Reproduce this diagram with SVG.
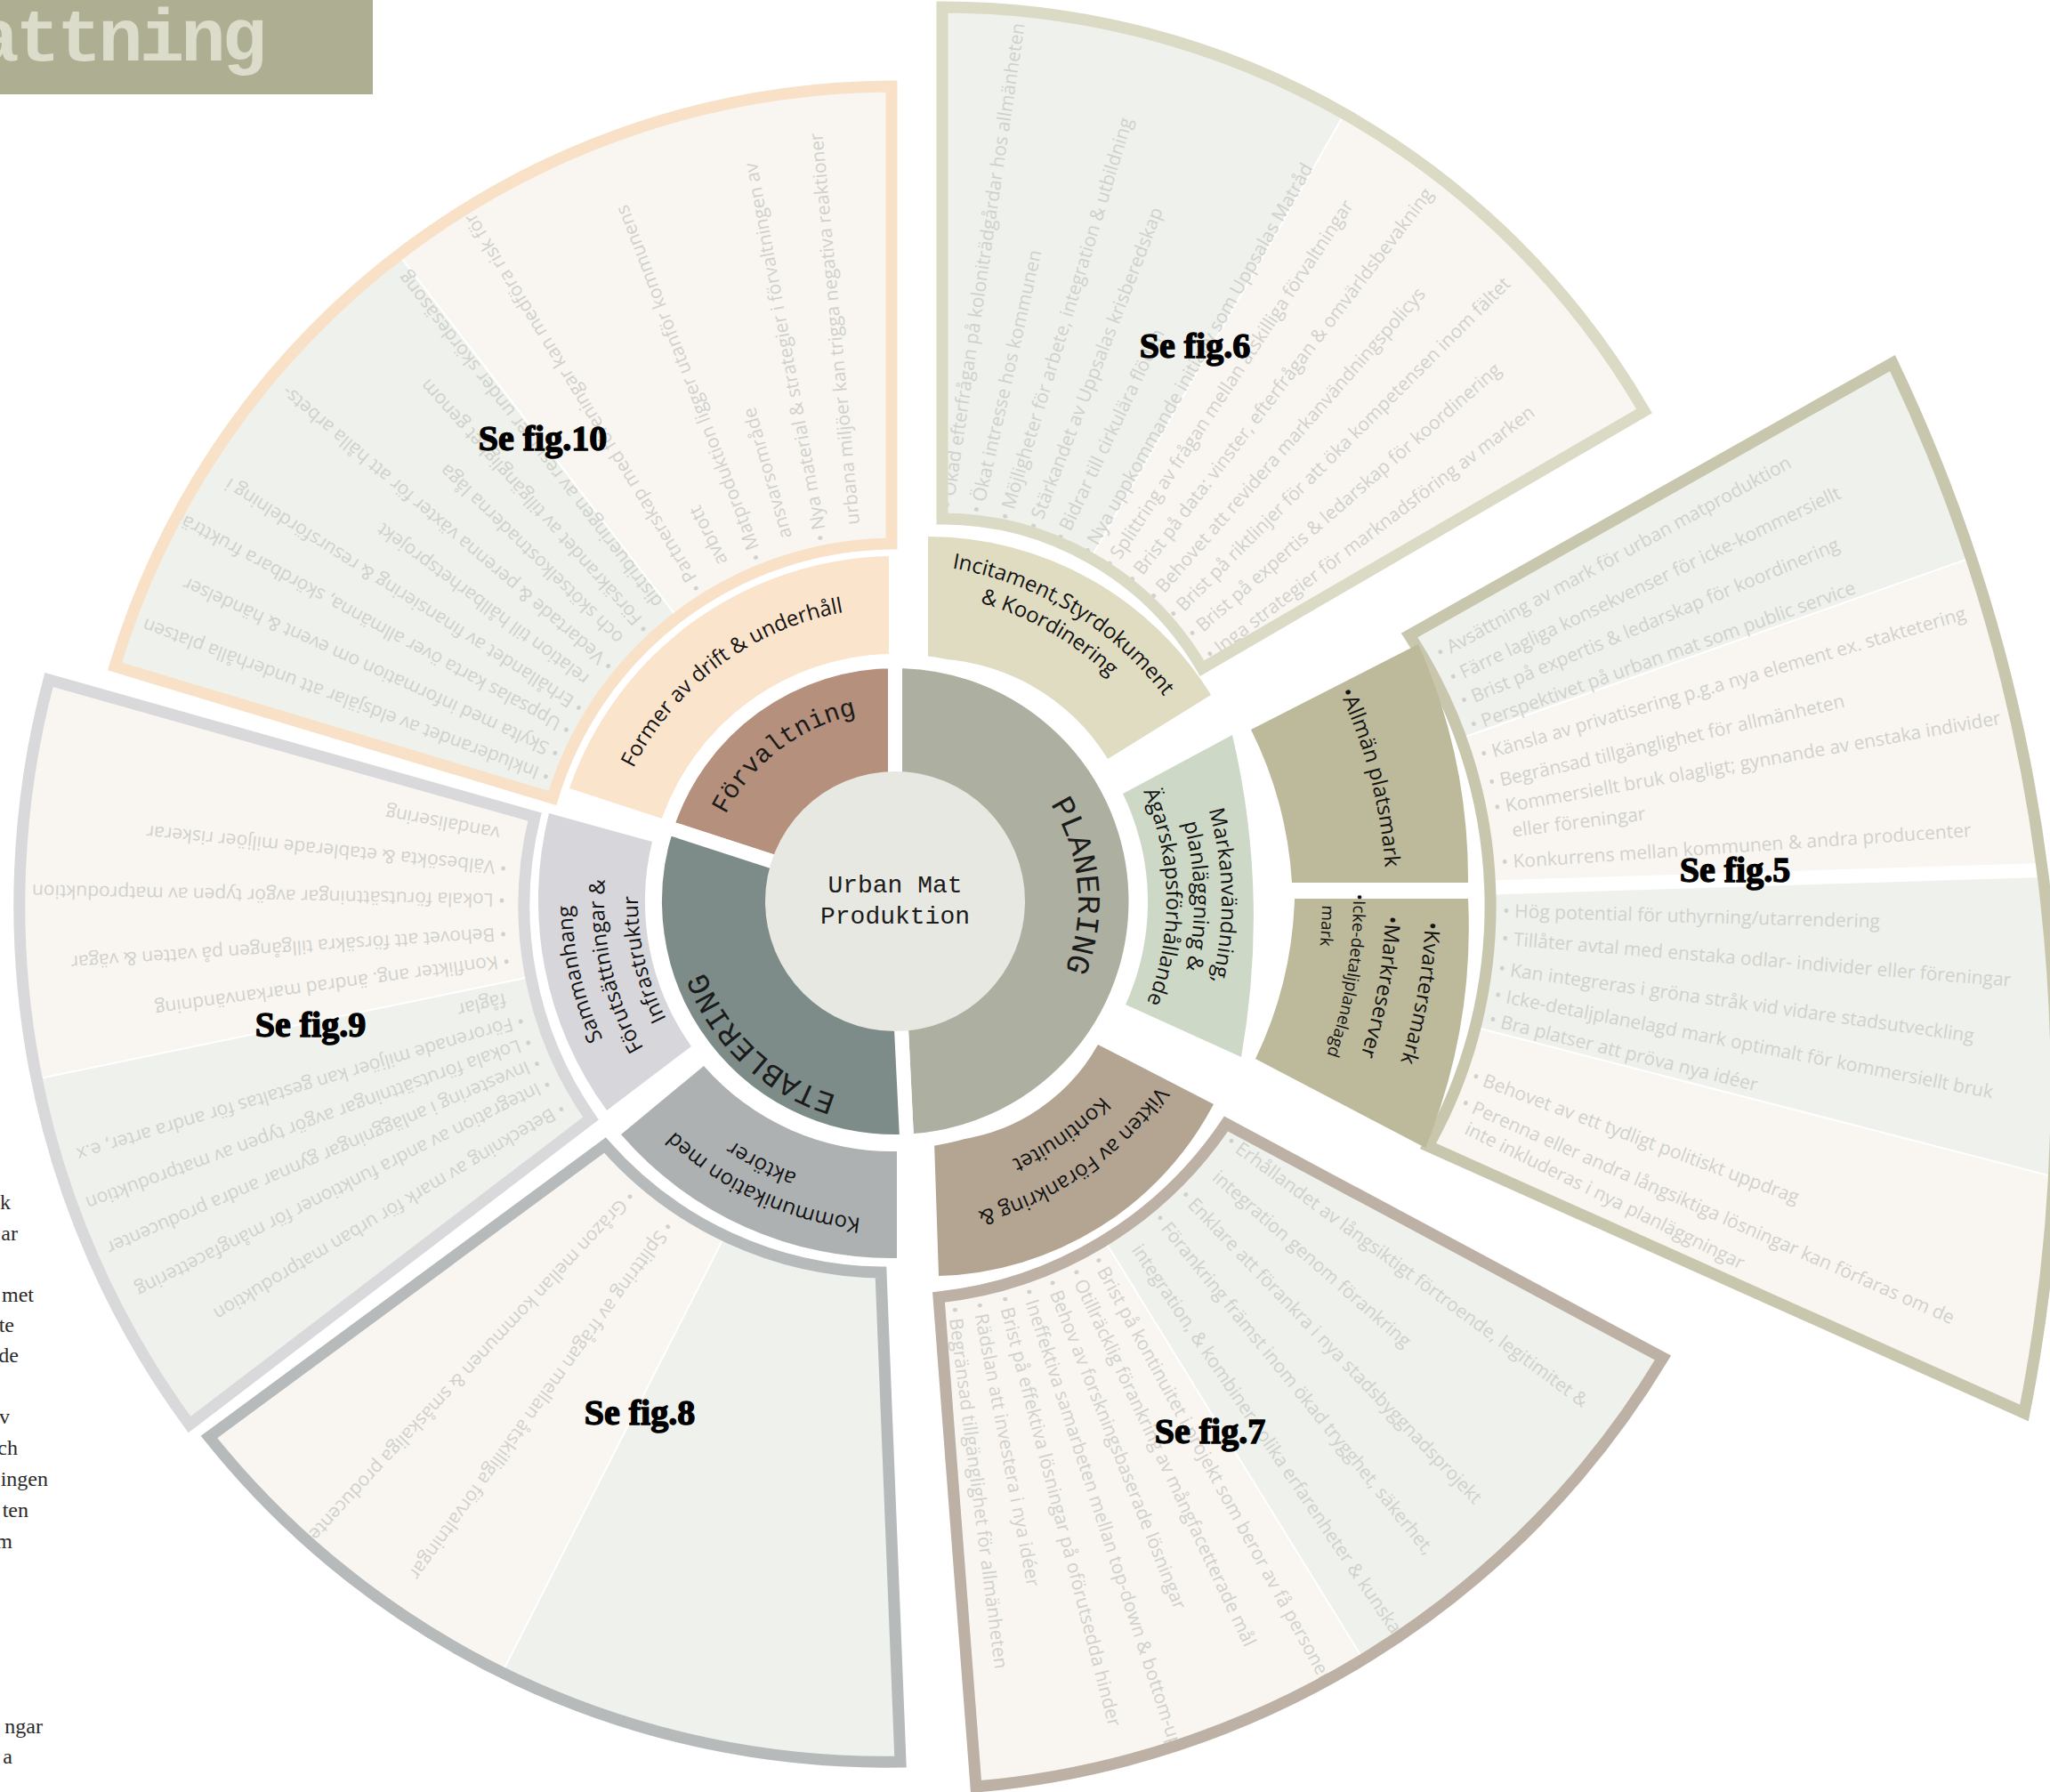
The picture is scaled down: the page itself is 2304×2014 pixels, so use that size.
<svg xmlns="http://www.w3.org/2000/svg" width="2304" height="2014" viewBox="0 0 2304 2014">
<style>
.pt{font-family:"Open Sans","Noto Sans","Liberation Sans",sans-serif;font-size:21px;fill:#d1d1cc}
.lbl{font-family:"Open Sans","Noto Sans","Liberation Sans",sans-serif;font-size:24px;fill:#121212}
.sm{font-size:19px}
.tw{font-family:"Liberation Mono","DejaVu Sans Mono",monospace;fill:#1b1b1b}
.fig{font-family:"Liberation Serif","DejaVu Serif",serif;font-weight:bold;font-size:40px;fill:#000;stroke:#000;stroke-width:1.4;text-anchor:middle}
.mg{font-family:"Liberation Serif","Times New Roman",serif;font-size:24px;fill:#2a2a2a;text-anchor:end}
.gr{fill:#eff1ec}
.cr{fill:#f9f6f2}
.dv{stroke:#fff;stroke-width:2}
.ring{stroke:#fff;stroke-width:16}
</style>
<defs>
<path id="p10" d="M621,897 L129,749 A916,916 0 0 1 1002,97 L1002,611 A402,402 0 0 0 621,897 Z"/>
<path id="p6" d="M1059,583 L1059,8 A913,913 0 0 1 1848,462 L1351,751 A338,338 0 0 0 1059,583 Z"/>
<path id="p5" d="M1584,714 L2127,408 A1887,1887 0 0 1 2275,1588 L1605,1288 A554,554 0 0 0 1584,714 Z"/>
<path id="p7" d="M1378,1263 L1869,1526 A1003,1003 0 0 1 1097,2008 L1055,1458 A448,448 0 0 0 1378,1263 Z"/>
<path id="p8" d="M990,1430 L1012,1980 A973,973 0 0 1 235,1615 L680,1287 A421,421 0 0 0 990,1430 Z"/>
<path id="p9" d="M664,1257 L213,1601 A985,985 0 0 1 55,764 L601,918 A418,418 0 0 0 664,1257 Z"/>
<clipPath id="c10"><use href="#p10"/></clipPath>
<clipPath id="c6"><use href="#p6"/></clipPath>
<clipPath id="c5"><use href="#p5"/></clipPath>
<clipPath id="c7"><use href="#p7"/></clipPath>
<clipPath id="c8"><use href="#p8"/></clipPath>
<clipPath id="c9"><use href="#p9"/></clipPath>
<path id="a_form" d="M-326.5,-48.2 A330,330 0 0 1 48.2,-326.5"/>
<path id="a_inc1" d="M-90.6,-369 A380,380 0 0 1 369,-90.6"/>
<path id="a_inc2" d="M-91.5,-336.8 A349,349 0 0 1 336.8,-91.5"/>
<path id="a_mk1" d="M254.9,-264 A367,367 0 0 1 264,254.9"/>
<path id="a_mk2" d="M233.4,-241.7 A336,336 0 0 1 241.7,233.4"/>
<path id="a_mk3" d="M211.9,-219.4 A305,305 0 0 1 219.4,211.9"/>
<path id="a_all" d="M279.3,-476.1 A552,552 0 0 1 476.1,279.3"/>
<path id="a_kv" d="M595.6,22.9 A596,596 0 0 1 298,516.1"/>
<path id="a_mr" d="M550.8,16.3 A551,551 0 0 1 275.5,477.2"/>
<path id="a_ik" d="M514.9,-8.1 A515,515 0 0 1 257.5,446"/>
<path id="a_mark" d="M480,4.2 A480,480 0 0 1 240,415.7"/>
<path id="a_vik1" d="M355.4,63.3 A361,361 0 0 1 -63.3,355.4"/>
<path id="a_vik2" d="M314.6,52.6 A319,319 0 0 1 -52.6,314.6"/>
<path id="a_kom1" d="M122.4,336.4 A358,358 0 0 1 -336.4,122.4"/>
<path id="a_kom2" d="M100.4,309.1 A325,325 0 0 1 -309.1,100.4"/>
<path id="a_sam1" d="M-192.4,307.8 A363,363 0 0 1 -307.8,-192.4"/>
<path id="a_sam2" d="M-173.3,277.3 A327,327 0 0 1 -277.3,-173.3"/>
<path id="a_sam3" d="M-153.1,245.1 A289,289 0 0 1 -245.1,-153.1"/>
<path id="a_forv" d="M-212.1,-28.7 A214,214 0 0 1 28.7,-212.1"/>
<path id="a_plan" d="M132.4,-157.8 A206,206 0 0 1 157.8,132.4"/>
<path id="a_etab" d="M7.2,227.9 A228,228 0 0 1 -227.9,7.2"/>
</defs>

<g id="title">
<rect x="0" y="0" width="419" height="106" fill="#aeae93"/>
<text x="296" y="68" text-anchor="end" font-family="Liberation Mono, DejaVu Sans Mono, monospace" font-weight="bold" font-size="84" letter-spacing="-4" fill="#dcdccb">attning</text>
</g>

<g id="margin-text">
<text class="mg" x="12" y="1359">k</text>
<text class="mg" x="20" y="1394">ar</text>
<text class="mg" x="38" y="1463">met</text>
<text class="mg" x="16" y="1497">te</text>
<text class="mg" x="21" y="1531">de</text>
<text class="mg" x="11" y="1600">v</text>
<text class="mg" x="20" y="1635">ch</text>
<text class="mg" x="54" y="1670">ingen</text>
<text class="mg" x="32" y="1705">ten</text>
<text class="mg" x="14" y="1740">m</text>
<text class="mg" x="48" y="1948">ngar</text>
<text class="mg" x="14" y="1982">a</text>
</g>

<g id="connectors"></g>

<!-- fig.10 petal -->
<g id="fig10">
<use href="#p10" class="gr"/>
<g clip-path="url(#c10)">
<rect x="0" y="-3000" width="3000" height="3000" class="cr" transform="translate(1006 1013) rotate(-37.5)"/>
<line x1="0" y1="0" x2="0" y2="-3000" class="dv" transform="translate(1006 1013) rotate(-37.5)"/>
<g class="pt" transform="translate(1006 1013)">
<text transform="rotate(-159.3)" x="413">• Inkluderandet av eldsjälar att underhålla platsen</text>
<text transform="rotate(-155.4)" x="413">• Skylta med information om event &amp; händelser</text>
<text transform="rotate(-151.4)" x="413">• Uppsalas karta över allmänna, skördbara fruktträd</text>
<text transform="rotate(-147.5)" x="413">• Erhållandet av finansiering &amp; resursfördelning i</text>
<text transform="rotate(-143.5)" x="426">relation till hållbarhetsprojekt</text>
<text transform="rotate(-139.6)" x="413">• Vedartade &amp; perenna växter för att hålla arbets-</text>
<text transform="rotate(-135.6)" x="426">och skötselkostnaderna låga</text>
<text transform="rotate(-131.7)" x="413">• Försäkrandet av tillgänglighet genom</text>
<text transform="rotate(-127.7)" x="426">distribueringen av resurser under skördesäsong</text>
<text transform="rotate(-121.4)" x="413">• Partnerskap med föreningar kan medföra risk för</text>
<text transform="rotate(-116.2)" x="426">avbrott</text>
<text transform="rotate(-111)" x="413">• Matproduktion ligger utanför kommunens</text>
<text transform="rotate(-105.8)" x="426">ansvarsområde</text>
<text transform="rotate(-100.6)" x="413">• Nya material &amp; strategier i förvaltningen av</text>
<text transform="rotate(-95.4)" x="426">urbana miljöer kan trigga negativa reaktioner</text>
</g>
</g>
<use href="#p10" fill="none" stroke="#f8e1c7" stroke-width="13"/>
</g>

<!-- fig.6 petal -->
<g id="fig6">
<use href="#p6" class="gr"/>
<g clip-path="url(#c6)">
<rect x="0" y="-3000" width="3000" height="3000" class="cr" transform="translate(1006 1013) rotate(29.7)"/>
<line x1="0" y1="0" x2="0" y2="-3000" class="dv" transform="translate(1006 1013) rotate(29.7)"/>
<g class="pt" transform="translate(1006 1013)">
<text transform="rotate(-81.6)" x="446">• Ökad efterfrågan på koloniträdgårdar hos allmänheten</text>
<text transform="rotate(-77.3)" x="446">• Ökat intresse hos kommunen</text>
<text transform="rotate(-73.1)" x="446">• Möjligheter för arbete, integration &amp; utbildning</text>
<text transform="rotate(-68.8)" x="446">• Stärkandet av Uppsalas krisberedskap</text>
<text transform="rotate(-64.6)" x="446">• Bidrar till cirkulära flöden</text>
<text transform="rotate(-60.3)" x="446">• Nya uppkommande initiativ som Uppsalas Matråd</text>
<text transform="rotate(-56.6)" x="446">• Splittring av frågan mellan åtskilliga förvaltningar</text>
<text transform="rotate(-52.7)" x="446">• Brist på data: vinster, efterfrågan &amp; omvärldsbevakning</text>
<text transform="rotate(-48.8)" x="446">• Behovet att revidera markanvändningspolicys</text>
<text transform="rotate(-45)" x="446">• Brist på riktlinjer för att öka kompetensen inom fältet</text>
<text transform="rotate(-41.1)" x="446">• Brist på expertis &amp; ledarskap för koordinering</text>
<text transform="rotate(-37.2)" x="446">• Inga strategier för marknadsföring av marken</text>
</g>
</g>
<use href="#p6" fill="none" stroke="#dbdac4" stroke-width="13"/>
</g>

<!-- fig.5 petal -->
<g id="fig5">
<use href="#p5" class="gr"/>
<g clip-path="url(#c5)">
<g transform="translate(1119 1015)">
<rect x="0" y="-3000" width="3000" height="3000" class="cr" transform="rotate(70.5)"/>
<rect x="0" y="-3000" width="3000" height="3000" class="gr" transform="rotate(88.2)"/>
<rect x="0" y="-3000" width="3000" height="3000" class="cr" transform="rotate(104.5)"/>
<line x1="0" y1="0" x2="0" y2="-3000" class="dv" transform="rotate(70.5)"/>
<line x1="0" y1="0" x2="0" y2="-3000" class="dv" transform="rotate(104.5)"/>
<line x1="0" y1="0" x2="0" y2="-3000" stroke="#fff" stroke-width="16" transform="rotate(88.2)"/>
</g>
<g class="pt" transform="translate(1119 1015)">
<text transform="rotate(-28.7)" x="570">• Avsättning av mark för urban matproduktion</text>
<text transform="rotate(-25.6)" x="570">• Färre lagliga konsekvenser för icke-kommersiellt</text>
<text transform="rotate(-22.7)" x="570">• Brist på expertis &amp; ledarskap för koordinering</text>
<text transform="rotate(-19.8)" x="570">• Perspektivet på urban mat som public service</text>
<text transform="rotate(-16.3)" x="570">• Känsla av privatisering p.g.a nya element ex. staktetering</text>
<text transform="rotate(-13)" x="570">• Begränsad tillgänglighet för allmänheten</text>
<text transform="rotate(-10.1)" x="570">• Kommersiellt bruk olagligt; gynnande av enstaka individer</text>
<text transform="rotate(-7.3)" x="586">eller föreningar</text>
<text transform="rotate(-3.9)" x="570">• Konkurrens mellan kommunen &amp; andra producenter</text>
<text transform="rotate(1.6)" x="570">• Hög potential för uthyrning/utarrendering</text>
<text transform="rotate(4.7)" x="570">• Tillåter avtal med enstaka odlar- individer eller föreningar</text>
<text transform="rotate(8.1)" x="570">• Kan integreras i gröna stråk vid vidare stadsutveckling</text>
<text transform="rotate(11.1)" x="570">• Icke-detaljplanelagd mark optimalt för kommersiellt bruk</text>
<text transform="rotate(13.9)" x="570">• Bra platser att pröva nya idéer</text>
<text transform="rotate(20.6)" x="570">• Behovet av ett tydligt politiskt uppdrag</text>
<text transform="rotate(23.8)" x="570">• Perenna eller andra långsiktiga lösningar kan förfaras om de</text>
<text transform="rotate(26.2)" x="586">inte inkluderas i nya planläggningar</text>
</g>
</g>
<use href="#p5" fill="none" stroke="#c8c6ac" stroke-width="13"/>
</g>

<!-- fig.7 petal -->
<g id="fig7">
<use href="#p7" class="gr"/>
<g clip-path="url(#c7)">
<rect x="0" y="-3000" width="3000" height="3000" class="cr" transform="translate(1006 1013) rotate(148.3)"/>
<line x1="0" y1="0" x2="0" y2="-3000" class="dv" transform="translate(1006 1013) rotate(148.3)"/>
<g class="pt" transform="translate(1006 1013)">
<text transform="rotate(36.4)" x="460">• Erhållandet av långsiktigt förtroende, legitimitet &amp;</text>
<text transform="rotate(41.3)" x="473">integration genom förankring</text>
<text transform="rotate(46.2)" x="460">• Enklare att förankra i nya stadsbyggnadsprojekt</text>
<text transform="rotate(51)" x="460">• Förankring främst inom ökad trygghet, säkerhet,</text>
<text transform="rotate(55.9)" x="473">integration, &amp; kombinera olika erfarenheter &amp; kunskaper</text>
<text transform="rotate(61.4)" x="460">• Brist på kontinuitet i projekt som beror av få personer</text>
<text transform="rotate(64.9)" x="460">• Otillräcklig förankring av mångfacetterade mål</text>
<text transform="rotate(68.5)" x="460">• Behov av forskningsbaserade lösningar</text>
<text transform="rotate(72)" x="460">• Ineffektiva samarbeten mellan top-down &amp; bottom-up</text>
<text transform="rotate(75.5)" x="460">• Brist på effektiva lösningar på oförutsedda hinder</text>
<text transform="rotate(79.1)" x="460">• Rädslan att investera i nya idéer</text>
<text transform="rotate(82.6)" x="460">• Begränsad tillgänglighet för allmänheten</text>
</g>
</g>
<use href="#p7" fill="none" stroke="#bcb1a4" stroke-width="13"/>
</g>

<!-- fig.8 petal -->
<g id="fig8">
<use href="#p8" class="gr"/>
<g clip-path="url(#c8)">
<rect x="0" y="-3000" width="3000" height="3000" class="cr" transform="translate(1006 1013) rotate(207)"/>
<line x1="0" y1="0" x2="0" y2="-3000" class="dv" transform="translate(1006 1013) rotate(207)"/>
<g class="pt" transform="translate(1006 1013)">
<text transform="rotate(125.9)" x="442">• Splittring av frågan mellan åtskilliga förvaltningar</text>
<text transform="rotate(132.9)" x="442">• Gråzon mellan kommunen &amp; småskaliga producenter</text>
</g>
</g>
<use href="#p8" fill="none" stroke="#b6baba" stroke-width="13"/>
</g>

<!-- fig.9 petal -->
<g id="fig9">
<use href="#p9" class="gr"/>
<g clip-path="url(#c9)">
<rect x="0" y="-3000" width="3000" height="3000" class="cr" transform="translate(1006 1013) rotate(258.3)"/>
<line x1="0" y1="0" x2="0" y2="-3000" class="dv" transform="translate(1006 1013) rotate(258.3)"/>
<g class="pt" transform="translate(1006 1013)">
<text transform="rotate(149.1)" x="438">• Beteckning av mark för urban matproduktion</text>
<text transform="rotate(153.2)" x="438">• Integration av andra funktioner för mångfacettering</text>
<text transform="rotate(156.6)" x="438">• Investering i anläggningar gynnar andra producenter</text>
<text transform="rotate(159.9)" x="438">• Lokala förutsättningar avgör typen av matproduktion</text>
<text transform="rotate(163.2)" x="438">• Förorenade miljöer kan gestaltas för andra arter, e.x</text>
<text transform="rotate(166.8)" x="451">fåglar</text>
<text transform="rotate(172.2)" x="438">• Konflikter ang. ändrad markanvändning</text>
<text transform="rotate(176.2)" x="438">• Behovet att försäkra tillgången på vatten &amp; vägar</text>
<text transform="rotate(181.1)" x="438">• Lokala förutsättningar avgör typen av matproduktion</text>
<text transform="rotate(185.8)" x="438">• Välbesökta &amp; etablerade miljöer riskerar</text>
<text transform="rotate(190.6)" x="451">vandalisering</text>
</g>
</g>
<use href="#p9" fill="none" stroke="#d9d9dc" stroke-width="13"/>
</g>

<!-- middle ring -->
<g id="former">
<path d="M744,920 L640,886 A388,388 0 0 1 999,625 L999,735 A278,278 0 0 0 744,920 Z" fill="#fbe4cc"/>
<text class="lbl" transform="translate(1006 1013)"><textPath href="#a_form" startOffset="50%" text-anchor="middle">Former av drift &amp; underhåll</textPath></text>
</g>
<g id="incitament">
<path d="M1043,740 L1043,603 A374,374 0 0 1 1361,781 L1245,853 A237,237 0 0 0 1043,740 Z" fill="#dfdcc2"/>
<g class="lbl" transform="translate(1006 1013)">
<text><textPath href="#a_inc1" startOffset="50%" text-anchor="middle">Incitament,Styrdokument</textPath></text>
<text><textPath href="#a_inc2" startOffset="50%" text-anchor="middle">&amp; Koordinering</textPath></text>
</g>
</g>
<g id="markanvandning">
<path d="M1262,892 L1385,826 A900,900 0 0 1 1395,1188 L1265,1129 A278,278 0 0 0 1262,892 Z" fill="#cdd9c6"/>
<g class="lbl" transform="translate(1006 1013)">
<text><textPath href="#a_mk1" startOffset="50%" text-anchor="middle">Markanvändning,</textPath></text>
<text><textPath href="#a_mk2" startOffset="50%" text-anchor="middle">planläggning &amp;</textPath></text>
<text><textPath href="#a_mk3" startOffset="50%" text-anchor="middle">Ägarskapsförhållande</textPath></text>
</g>
</g>
<g id="allman-platsmark">
<path d="M1406,820 L1594,724 A650,650 0 0 1 1650,992 L1452,992 A445,445 0 0 0 1406,820 Z" fill="#bdb99b"/>
<text class="lbl" transform="translate(1006 1013)"><textPath href="#a_all" startOffset="50%" text-anchor="middle">•Allmän platsmark</textPath></text>
</g>
<g id="kvartersmark">
<path d="M1455,1010 L1650,1010 A655,655 0 0 1 1602,1290 L1411,1190 A445,445 0 0 0 1455,1010 Z" fill="#bdb99b"/>
<g class="lbl" transform="translate(1006 1013)">
<text><textPath href="#a_kv">•Kvartersmark</textPath></text>
<text><textPath href="#a_mr">•Markreserver</textPath></text>
<text class="sm"><textPath href="#a_ik">•Icke-detaljplanelagd</textPath></text>
<text class="sm"><textPath href="#a_mark">mark</textPath></text>
</g>
</g>
<g id="vikten">
<path d="M1234,1174 L1364,1241 A361,361 0 0 1 1055,1434 L1050,1283 A212,212 0 0 0 1234,1174 Z" fill="#b3a592"/>
<g class="lbl" transform="translate(1006 1013)">
<text><textPath href="#a_vik1" startOffset="50%" text-anchor="middle">Vikten av Förankring &amp;</textPath></text>
<text><textPath href="#a_vik2" startOffset="50%" text-anchor="middle">Kontinuitet</textPath></text>
</g>
</g>
<g id="kommunikation">
<path d="M1008,1294 L1008,1414 A401,401 0 0 1 698,1275 L791,1198 A281,281 0 0 0 1008,1294 Z" fill="#adb1b2"/>
<g class="lbl" transform="translate(1006 1013)">
<text><textPath href="#a_kom1" startOffset="50%" text-anchor="middle">Kommunikation med</textPath></text>
<text><textPath href="#a_kom2" startOffset="50%" text-anchor="middle">aktörer</textPath></text>
</g>
</g>
<g id="sammanhang">
<path d="M777,1176 L682,1248 A401,401 0 0 1 617,914 L733,946 A281,281 0 0 0 777,1176 Z" fill="#d7d6db"/>
<g class="lbl" transform="translate(1006 1013)">
<text><textPath href="#a_sam1" startOffset="50%" text-anchor="middle">Sammanhang</textPath></text>
<text><textPath href="#a_sam2" startOffset="50%" text-anchor="middle">Förutsättningar &amp;</textPath></text>
<text><textPath href="#a_sam3" startOffset="50%" text-anchor="middle">Infrastruktur</textPath></text>
</g>
</g>

<!-- inner ring -->
<g transform="translate(1006 1013)">
<g id="forvaltning">
<path d="M0,0 L-256.8,-83.4 A270,270 0 0 1 0,-270 Z" fill="#b5907c" class="ring"/>
<text class="tw" font-size="29"><textPath href="#a_forv" startOffset="50%" text-anchor="middle">Förvaltning</textPath></text>
</g>
<g id="planering">
<path d="M0,0 L0,-270 A270,270 0 0 1 13.2,269.7 Z" fill="#adb0a0" class="ring"/>
<text class="tw" font-size="36"><textPath href="#a_plan" startOffset="50%" text-anchor="middle">PLANERING</textPath></text>
</g>
<g id="etablering">
<path d="M0,0 L13.2,269.7 A270,270 0 0 1 -256.8,-83.4 Z" fill="#7e8c89" class="ring"/>
<text class="tw" font-size="35"><textPath href="#a_etab" startOffset="50%" text-anchor="middle">ETABLERING</textPath></text>
</g>
<g id="center">
<circle cx="0" cy="0" r="146" fill="#e7e8e2"/>
<text class="tw" font-size="28" x="0" y="-10" text-anchor="middle">Urban Mat</text>
<text class="tw" font-size="28" x="0" y="25" text-anchor="middle">Produktion</text>
</g>
</g>

<g id="fig-labels">
<text class="fig" x="610" y="506">Se fig.10</text>
<text class="fig" x="1343" y="402">Se fig.6</text>
<text class="fig" x="1950" y="991">Se fig.5</text>
<text class="fig" x="349" y="1165">Se fig.9</text>
<text class="fig" x="719" y="1601">Se fig.8</text>
<text class="fig" x="1360" y="1622">Se fig.7</text>
</g>
</svg>
